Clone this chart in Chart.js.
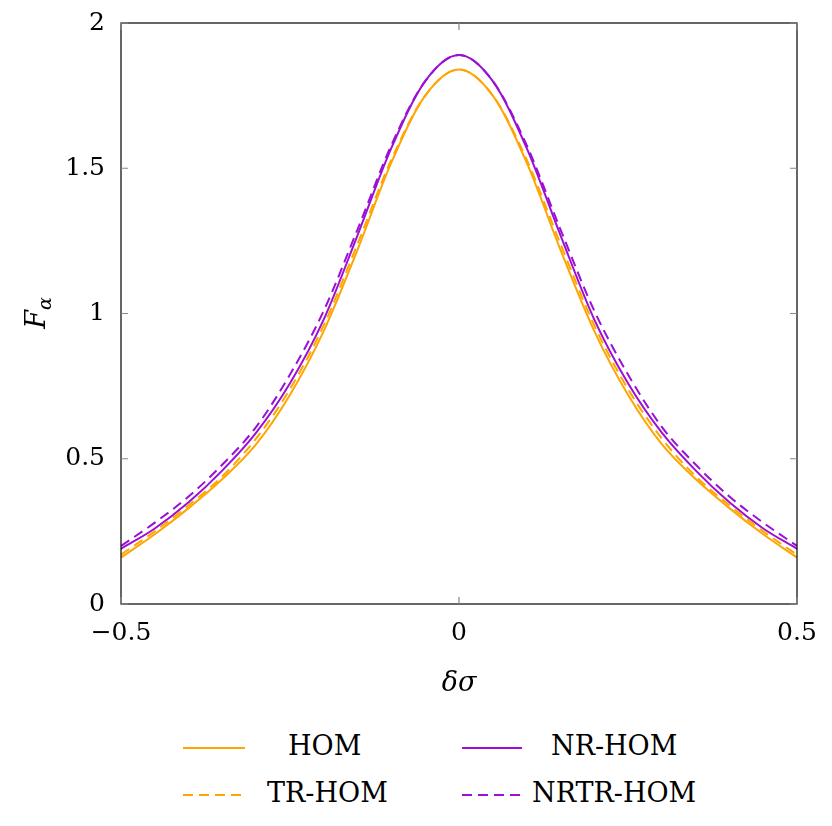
<!DOCTYPE html>
<html>
<head>
<meta charset="UTF-8">
<script src="https://cdn.jsdelivr.net/npm/chart.js"></script>
<style>
  body { margin: 0; background: #fff; font-family: "DejaVu Serif", "Liberation Serif", serif; }
  #wrap { position: relative; width: 832px; height: 826px; }
  canvas { position: absolute; left: 0; top: 0; }
  .leg { position: absolute; font-size: 27px; color: #000; }
</style>
</head>
<body>
<div id="wrap">
  <canvas id="c" width="832" height="700"></canvas>
  <svg style="position:absolute;left:0;top:720px" width="832" height="100">
    <line x1="183" y1="28" x2="245" y2="28" stroke="#ffa500" stroke-width="2"/>
    <line x1="183" y1="75" x2="245" y2="75" stroke="#ffa500" stroke-width="2" stroke-dasharray="10,6"/>
    <line x1="462" y1="28" x2="522" y2="28" stroke="#9a10d4" stroke-width="2"/>
    <line x1="462" y1="75" x2="522" y2="75" stroke="#9a10d4" stroke-width="2" stroke-dasharray="10,6"/>
  </svg>
  <div class="leg" style="left:288px;top:730px">HOM</div>
  <div class="leg" style="left:267px;top:777px">TR-HOM</div>
  <div class="leg" style="left:551px;top:730px">NR-HOM</div>
  <div class="leg" style="left:532px;top:777px">NRTR-HOM</div>
</div>
<script>
  // half profile, x = 0, 0.05, ... 0.5 (curves are symmetric)
  const xs = [0, 0.05, 0.1, 0.15, 0.2, 0.25, 0.3, 0.35, 0.4, 0.45, 0.5];
  const hom    = [1.84, 1.75, 1.52, 1.22, 0.94, 0.72, 0.55, 0.43, 0.33, 0.24, 0.16];
  const trHom  = [1.84, 1.75, 1.53, 1.24, 0.96, 0.74, 0.57, 0.44, 0.34, 0.25, 0.17];
  const nrHom  = [1.89, 1.80, 1.57, 1.27, 0.98, 0.76, 0.59, 0.46, 0.35, 0.26, 0.19];
  const nrtrHom = [1.89, 1.80, 1.58, 1.29, 1.01, 0.79, 0.61, 0.48, 0.37, 0.28, 0.20];
  const xTicks = [-0.5, 0, 0.5];
  const yTicks = [0, 0.5, 1, 1.5, 2];

  function full(ys) {
    const pts = [];
    for (let i = xs.length - 1; i > 0; i--) pts.push({ x: -xs[i], y: ys[i] });
    for (let i = 0; i < xs.length; i++) pts.push({ x: xs[i], y: ys[i] });
    return pts;
  }
  const orange = '#ffa500', violet = '#9a10d4';
  const ds = (d, c, dash) => ({ data: full(d), borderColor: c, borderWidth: 2, borderDash: dash, pointRadius: 0, cubicInterpolationMode: 'monotone', fill: false });

  const font = { family: '"DejaVu Serif", serif', size: 25 };
  const frame = {
    id: 'frame',
    afterDraw(ch) {
      const { ctx, chartArea: a, scales: { x, y } } = ch;
      ctx.save();
      ctx.strokeStyle = '#000'; ctx.lineWidth = 1.2;
      ctx.strokeRect(a.left, a.top, a.right - a.left, a.bottom - a.top);
      ctx.strokeStyle = '#888';
      xTicks.forEach(v => { const p = x.getPixelForValue(v);
        ctx.beginPath(); ctx.moveTo(p, a.bottom); ctx.lineTo(p, a.bottom - 7); ctx.moveTo(p, a.top); ctx.lineTo(p, a.top + 7); ctx.stroke(); });
      yTicks.forEach(v => { const p = y.getPixelForValue(v);
        ctx.beginPath(); ctx.moveTo(a.left, p); ctx.lineTo(a.left + 7, p); ctx.moveTo(a.right, p); ctx.lineTo(a.right - 7, p); ctx.stroke(); });
      ctx.fillStyle = '#000';
      ctx.font = 'italic 27px "DejaVu Serif", serif';
      ctx.textAlign = 'center'; ctx.textBaseline = 'middle';
      ctx.fillText('δσ', (a.left + a.right) / 2, 684);
      ctx.translate(38, (a.top + a.bottom) / 2);
      ctx.rotate(-Math.PI / 2);
      ctx.fillText('F', -6, 0);
      ctx.font = 'italic 19px "DejaVu Serif", serif';
      ctx.fillText('α', 10, 8);
      ctx.restore();
    }
  };

  new Chart(document.getElementById('c'), {
    type: 'line',
    data: { datasets: [ds(hom, orange, []), ds(trHom, orange, [10, 6]), ds(nrHom, violet, []), ds(nrtrHom, violet, [10, 6])] },
    options: {
      responsive: false, animation: false,
      layout: { padding: { top: 22, right: 35, left: 0, bottom: 0 } },
      plugins: { legend: { display: false }, tooltip: { enabled: false } },
      scales: {
        x: { type: 'linear', min: -0.5, max: 0.5,
          afterFit: s => { s.height = 96; },
          afterBuildTicks: s => { s.ticks = xTicks.map(v => ({ value: v })); },
          grid: { display: false }, border: { display: false },
          ticks: { color: '#000', font, padding: 6, maxRotation: 0, callback: v => v < 0 ? '−' + Math.abs(v) : String(v) } },
        y: { min: 0, max: 2,
          afterFit: s => { s.width = 121; },
          afterBuildTicks: s => { s.ticks = yTicks.map(v => ({ value: v })); },
          grid: { display: false }, border: { display: false },
          ticks: { color: '#000', font, padding: 8, callback: v => String(v) } }
      }
    },
    plugins: [frame]
  });
</script>
</body>
</html>
